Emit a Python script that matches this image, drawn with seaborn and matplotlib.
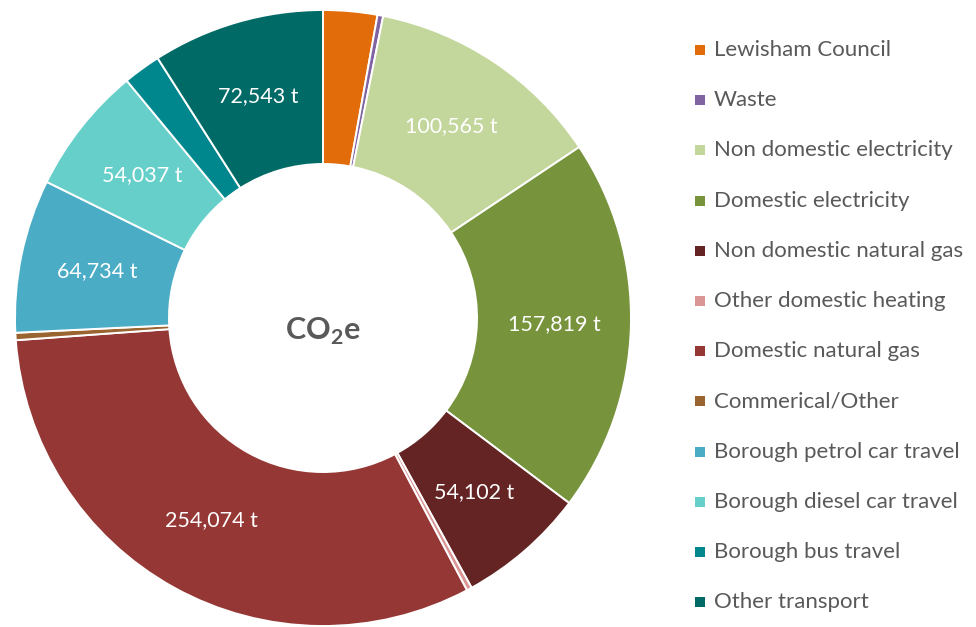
import matplotlib
matplotlib.use("Agg")
import matplotlib.pyplot as plt
from matplotlib.patches import Rectangle
import numpy as np
import seaborn as sns

# Emission sources (tonnes CO2e)
categories = [
    "Lewisham Council",
    "Waste",
    "Non domestic electricity",
    "Domestic electricity",
    "Non domestic natural gas",
    "Other domestic heating",
    "Domestic natural gas",
    "Commerical/Other",
    "Borough petrol car travel",
    "Borough diesel car travel",
    "Borough bus travel",
    "Other transport",
]
emissions = [22800, 2400, 100565, 157819, 54102, 2200, 254074, 3100, 64734, 54037, 15900, 72543]
show_label = [False, False, True, True, True, False, True, False, True, True, False, True]
colors = [
    "#E36C0A", "#8064A2", "#C3D69B", "#77933C", "#632423", "#D99694",
    "#953735", "#9A6431", "#4BACC6", "#66CFCA", "#00878E", "#006A66",
]
center_label = "CO$_\\mathbf{2}$e"

sns.set_theme(style="white")
plt.rcParams["font.family"] = ["Lato", "DejaVu Sans"]
plt.rcParams["mathtext.fontset"] = "custom"
plt.rcParams["mathtext.bf"] = "Lato:bold"
plt.rcParams["mathtext.rm"] = "Lato"

palette = sns.color_palette(colors)
W, H = 976, 627
fig = plt.figure(figsize=(W / 100, H / 100), dpi=100)

# donut: centre (323, 318) px, outer radius 308 px
cx, cy, R = 323, 318, 308
ax = fig.add_axes([(cx - R) / W, (H - cy - R) / H, 2 * R / W, 2 * R / H])
wedges, _ = ax.pie(
    emissions,
    colors=palette,
    startangle=90,
    counterclock=False,
    radius=1.0,
    wedgeprops=dict(width=0.5, edgecolor="white", linewidth=1.4),
)
ax.set_xlim(-1, 1)
ax.set_ylim(-1, 1)
ax.set_axis_off()

total = sum(emissions)
cum = 0.0
for val, lab in zip(emissions, show_label):
    mid = cum + val / 2
    cum += val
    if not lab:
        continue
    theta = np.deg2rad(90 - 360 * mid / total)
    r = 0.75
    ax.text(r * np.cos(theta), r * np.sin(theta), f"{val:,} t",
            ha="center", va="center", color="white", fontsize=15.5)

ax.text(0, -0.045, center_label, ha="center", va="center",
        fontsize=22, fontweight="bold", color="#595959")

# legend column
row0, step = 50, 50.2
for i, (name, col) in enumerate(zip(categories, palette)):
    y = row0 + i * step
    fig.patches.append(Rectangle((695 / W, 1 - (y + 5) / H), 10 / W, 10 / H,
                                 transform=fig.transFigure, facecolor=col,
                                 edgecolor="none"))
    fig.text(714 / W, 1 - y / H, name, ha="left", va="center",
             fontsize=16, color="#595959")

fig.savefig("out.png", dpi=100, facecolor="white")
